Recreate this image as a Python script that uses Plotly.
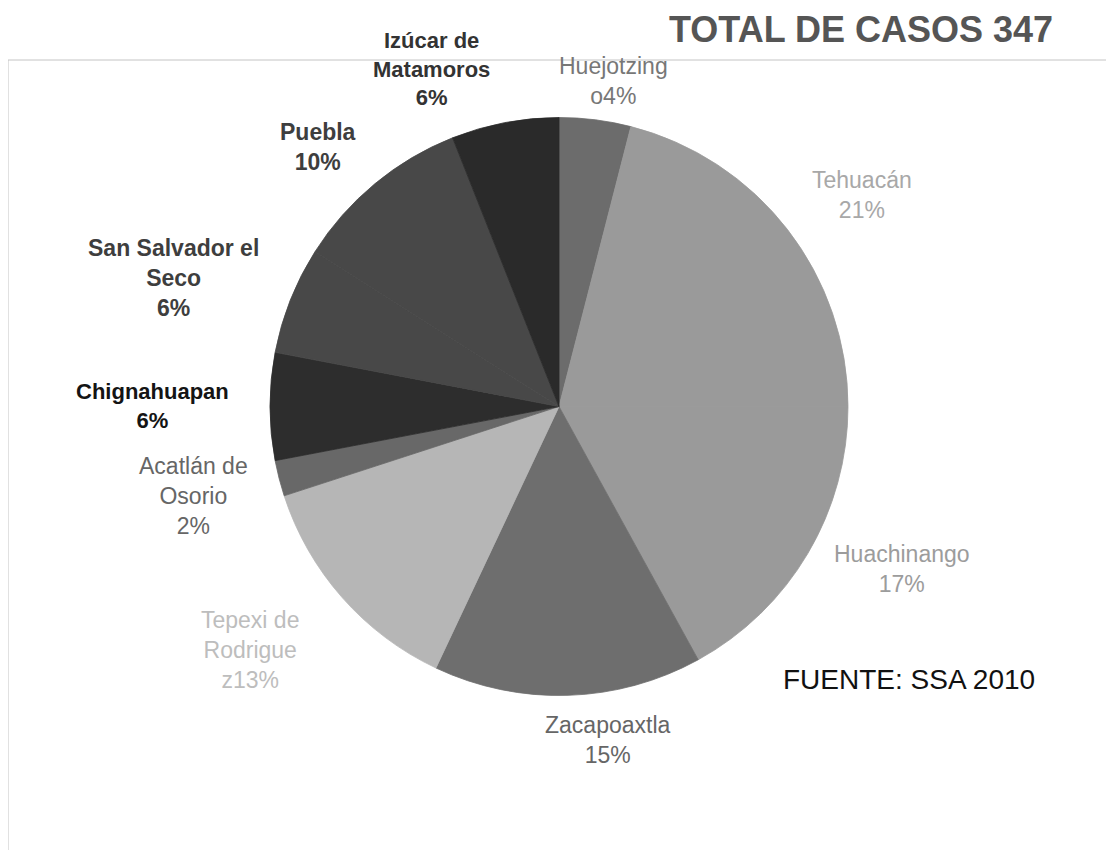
import plotly.graph_objects as go

# ---- data ----
municipios = ["Huejotzingo", "Tehuacán", "Huachinango", "Zacapoaxtla",
              "Tepexi de Rodriguez", "Acatlán de Osorio", "Chignahuapan",
              "San Salvador el Seco", "Puebla", "Izúcar de Matamoros"]
porcentajes = [4, 21, 17, 15, 13, 2, 6, 6, 10, 6]
# label text as printed (wrapped) in the reference
etiquetas = ["Huejotzing<br>o", "Tehuacán<br>", "Huachinango<br>", "Zacapoaxtla<br>",
             "Tepexi de<br>Rodrigue<br>z", "Acatlán de<br>Osorio<br>", "Chignahuapan<br>",
             "San Salvador el<br>Seco<br>", "Puebla<br>", "Izúcar de<br>Matamoros<br>"]
titulo = "TOTAL DE CASOS 347"
fuente = "FUENTE: SSA 2010"

# ---- styles ----
W, H = 1114, 850
OFF = 8  # page body margin
slice_colors = ["#6c6c6c", "#9a9a9a", "#9a9a9a", "#6e6e6e", "#b6b6b6",
                "#686868", "#2d2d2d", "#484848", "#484848", "#2a2a2a"]
label_colors = ["#777777", "#a8a8a8", "#9c9c9c", "#666666", "#bdbdbd",
                "#666666", "#141414", "#3e3e3e", "#3e3e3e", "#333333"]
label_bold = [False, False, False, False, False, False, True, True, True, True]
label_size = [23, 23, 23, 23, 23, 23, 22, 23, 23, 22]
# label block centers in pixels (page coordinates)
label_pos = [(613, 81), (862, 195), (902, 569), (608, 740), (250, 650),
             (193, 496), (152, 406), (174, 278), (318, 147), (431, 69)]

cx, cy, r = 559, 406.5, 289

def px(x):
    return (x - OFF) / W

def py(y):
    return 1 - (y - OFF) / H

fig = go.Figure(go.Pie(
    labels=municipios,
    values=porcentajes,
    sort=False,
    direction="clockwise",
    rotation=0,
    textinfo="none",
    hoverinfo="label+percent",
    marker=dict(colors=slice_colors, line=dict(width=0.8, color=slice_colors)),
    domain=dict(x=[px(cx - r), px(cx + r)], y=[py(cy + r), py(cy - r)]),
    showlegend=False,
))

annotations = []
for lab, val, col, b, sz, (x, y) in zip(etiquetas, porcentajes, label_colors, label_bold,
                                        label_size, label_pos):
    txt = f"{lab}{val}%"
    if b:
        txt = "<b>" + txt + "</b>"
    annotations.append(dict(
        x=px(x), y=py(y), xref="paper", yref="paper",
        text=txt, showarrow=False, xanchor="center", yanchor="middle",
        align="center", font=dict(family="Liberation Sans, Arial", size=sz, color=col),
    ))

annotations.append(dict(
    x=px(861), y=1.0, xref="paper", yref="paper", text="<b>" + titulo + "</b>",
    showarrow=False, xanchor="center", yanchor="top", borderpad=0,
    font=dict(family="Liberation Sans, Arial", size=36, color="#555555"),
))
annotations.append(dict(
    x=px(909), y=py(679), xref="paper", yref="paper", text=fuente,
    showarrow=False, xanchor="center", yanchor="middle",
    font=dict(family="Liberation Sans, Arial", size=28, color="#111111"),
))

fig.update_layout(
    width=W, height=H,
    margin=dict(l=0, r=0, t=0, b=0),
    paper_bgcolor="white", plot_bgcolor="white",
    annotations=annotations,
    shapes=[dict(type="rect", xref="paper", yref="paper",
                 x0=px(8), x1=px(1111), y0=py(870), y1=py(60),
                 line=dict(color="#c4c4c4", width=1), layer="below")],
)

fig.write_html("out.html")
